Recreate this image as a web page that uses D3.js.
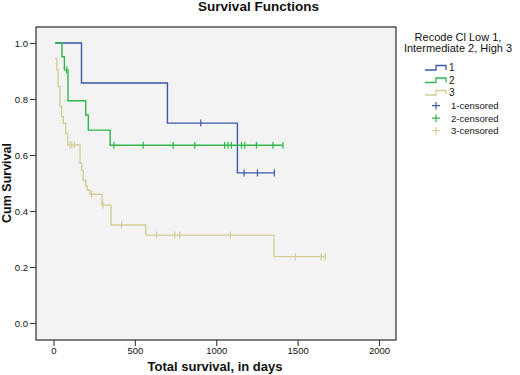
<!DOCTYPE html>
<html>
<head>
<meta charset="utf-8">
<script src="https://cdn.jsdelivr.net/npm/d3@7"></script>
<style>
  body { margin: 0; background: #fff; }
  text { font-family: "Liberation Sans", Arial, sans-serif; fill: #111; }
</style>
</head>
<body>
<div class="box"></div>
<script>
// DATA
// each group: times where the curve steps, survival after the step, censored times
const groupNames = ["1", "2", "3"];

const times1 = [10, 172, 700, 1130];
const surv1 = [1.0, 0.857, 0.714, 0.536];
const cens1 = [905, 1171, 1253, 1357];

const times2 = [10, 52, 67, 89, 198, 214, 348];
const surv2 = [1.0, 0.951, 0.904, 0.794, 0.743, 0.689, 0.635];
const cens2 = [81, 371, 551, 735, 868, 1052, 1073, 1093, 1155, 1175, 1247, 1349, 1410];

const times3 = [9, 20, 29, 40, 50, 60, 75, 87, 163, 173, 183, 198, 207, 224, 298, 353, 567, 1355];
const surv3 = [0.945, 0.904, 0.844, 0.773, 0.737, 0.713, 0.677, 0.636, 0.57, 0.546, 0.51, 0.49, 0.475, 0.46, 0.421, 0.35, 0.314, 0.237];
const cens3 = [101, 112, 128, 234, 305, 418, 633, 745, 776, 1087, 1486, 1645, 1670];

const xTicks = [0, 500, 1000, 1500, 2000];
const yTicks = [0.0, 0.2, 0.4, 0.6, 0.8, 1.0];

const groups = [
  { name: groupNames[0], times: times1, surv: surv1, cens: cens1 },
  { name: groupNames[1], times: times2, surv: surv2, cens: cens2 },
  { name: groupNames[2], times: times3, surv: surv3, cens: cens3 }
];

// SPSS default colours
const color = d3.scaleOrdinal()
                .domain(groupNames)
                .range(["#3E58AC", "#2EB848", "#D3CE97"]);

const w = 520;
const h = 375;

// plot frame
const frame = { left: 36, right: 396, top: 27, bottom: 340 };

const svg = d3.select(".box")
              .append("svg")
              .attr("width", w)
              .attr("height", h);

const xScale = d3.scaleLinear()
                 .domain([0, 2000])
                 .range([53.5, 379]);

const yScale = d3.scaleLinear()
                 .domain([0, 1])
                 .range([323, 43]);

// BACKGROUND + FRAME
svg.append("rect")
   .attr("x", frame.left)
   .attr("y", frame.top)
   .attr("width", frame.right - frame.left)
   .attr("height", frame.bottom - frame.top)
   .style("fill", "#f3f3f3")
   .style("stroke", "#3a3a3a")
   .style("stroke-width", 1.3);

// AXES
const xAxis = d3.axisBottom(xScale)
                .tickValues(xTicks)
                .tickSize(6)
                .tickPadding(1.5)
                .tickFormat(d3.format("d"));

const yAxis = d3.axisLeft(yScale)
                .tickValues(yTicks)
                .tickSize(6)
                .tickPadding(2)
                .tickFormat(d3.format(".1f"));

const gx = svg.append("g")
              .attr("transform", "translate(0," + frame.bottom + ")")
              .call(xAxis);

const gy = svg.append("g")
              .attr("transform", "translate(" + frame.left + ",0)")
              .call(yAxis);

[gx, gy].forEach(function(g) {
  g.select(".domain").remove();
  g.selectAll("line").style("stroke", "#3a3a3a").style("stroke-width", 1.1);
  g.selectAll("text")
   .style("font-family", "'Liberation Sans', Arial, sans-serif")
   .style("font-size", "9.5px")
   .style("fill", "#111");
});

// CURVES
function survAt(g, t) {
  let s = g.surv[0];
  g.times.forEach(function(ti, i) { if (ti <= t) s = g.surv[i]; });
  return s;
}

const line = d3.line()
               .x(d => xScale(d[0]))
               .y(d => yScale(d[1]))
               .curve(d3.curveStepAfter);

groups.forEach(function(g) {
  const pts = g.times.map((t, i) => [t, g.surv[i]]);
  const last = d3.max(g.cens.concat(g.times));
  pts.push([last, survAt(g, last)]);

  svg.append("path")
     .datum(pts)
     .attr("d", line)
     .style("fill", "none")
     .style("stroke", color(g.name))
     .style("stroke-width", 1.4);

  // censor ticks
  svg.selectAll(null)
     .data(g.cens)
     .enter()
     .append("line")
     .attr("x1", d => xScale(d))
     .attr("x2", d => xScale(d))
     .attr("y1", d => yScale(survAt(g, d)) - 3.5)
     .attr("y2", d => yScale(survAt(g, d)) + 3.5)
     .style("stroke", color(g.name))
     .style("stroke-width", 1.2);
});

// TITLES
svg.append("text")
   .attr("x", 258.5)
   .attr("y", 11)
   .attr("text-anchor", "middle")
   .style("font-size", "13.5px")
   .style("font-weight", "bold")
   .text("Survival Functions");

svg.append("text")
   .attr("x", 215)
   .attr("y", 371)
   .attr("text-anchor", "middle")
   .style("font-size", "13px")
   .style("font-weight", "bold")
   .text("Total survival, in days");

svg.append("text")
   .attr("transform", "rotate(-90)")
   .attr("x", -183)
   .attr("y", 11)
   .attr("text-anchor", "middle")
   .style("font-size", "12.5px")
   .style("font-weight", "bold")
   .text("Cum Survival");

// LEGEND
const legend = svg.append("g").attr("id", "legend");

legend.selectAll(".ltitle")
      .data(["Recode Cl Low 1,", "Intermediate 2, High 3"])
      .enter()
      .append("text")
      .attr("x", 458)
      .attr("y", (d, i) => 41 + i * 11)
      .attr("text-anchor", "middle")
      .style("font-size", "11px")
      .text(d => d);

const rowH = 12.5;

groupNames.forEach(function(name, i) {
  const y = 70 + i * rowH;
  legend.append("path")
        .attr("d", "M425," + y + "H436V" + (y - 4.5) + "H446V" + y)
        .style("fill", "none")
        .style("stroke", color(name))
        .style("stroke-width", 1.3);
  legend.append("text")
        .attr("x", 449)
        .attr("y", y + 1)
        .style("font-size", "10px")
        .text(name);
});

groupNames.forEach(function(name, i) {
  const y = 105.7 + i * rowH;
  legend.append("path")
        .attr("d", "M432," + y + "H440M436," + (y - 3.8) + "V" + (y + 3.8))
        .style("stroke", color(name))
        .style("stroke-width", 1.2);
  legend.append("text")
        .attr("x", 451)
        .attr("y", y + 3.5)
        .style("font-size", "9.5px")
        .text(name + "-censored");
});
</script>
</body>
</html>
